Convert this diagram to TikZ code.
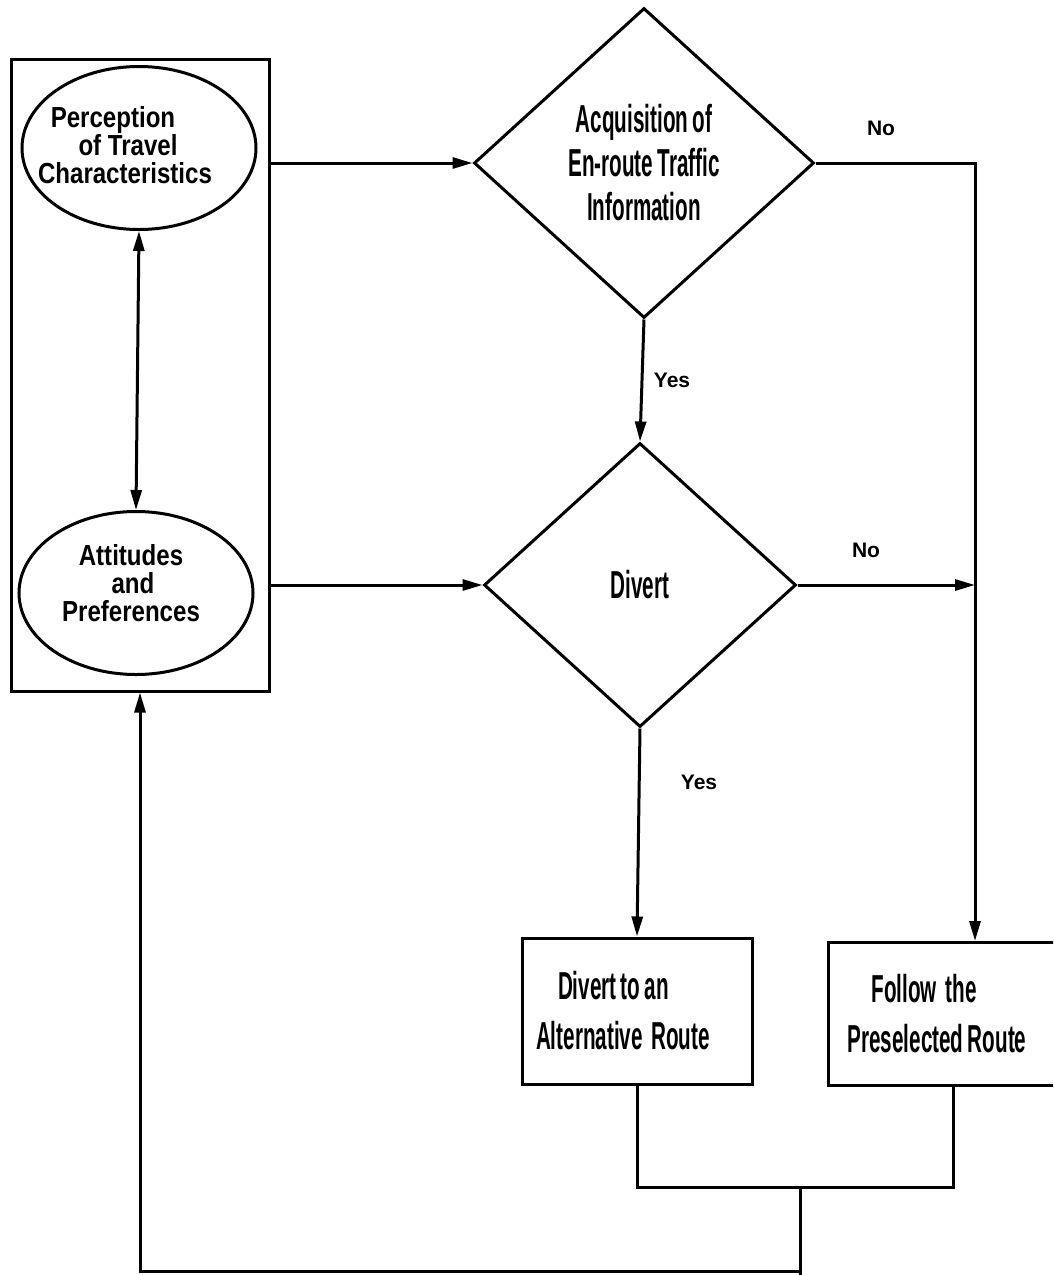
\documentclass[tikz,border=0pt]{standalone}
\usepackage{fontspec}
\usetikzlibrary{shapes.geometric,arrows.meta}
\setmainfont{Liberation Sans}
\newfontfamily\condfont{Liberation Sans Bold}[FakeStretch=0.53,WordSpace=0.75]
\newfontfamily\ellfont{Liberation Sans Bold}[FakeStretch=0.83]
\newfontfamily\lblfont{Liberation Sans Bold}
\tikzset{
  line/.style={line width=3pt, line join=miter},
  arr/.style={line, -{Triangle[length=20pt,width=11pt]}},
  dbl/.style={line, {Triangle[length=20pt,width=11pt]}-{Triangle[length=20pt,width=11pt]}},
  frame/.style={draw, line width=3pt, inner sep=0pt},
  ell/.style={draw, ellipse, line width=3pt, inner sep=0pt,
              minimum width=234pt, minimum height=163pt},
  elltext/.style={align=center, inner sep=0pt, font=\ellfont\fontsize{29}{28}\selectfont},
  decision/.style={draw, diamond, line width=3pt, inner sep=0pt, align=center,
              font=\condfont\fontsize{39}{44}\selectfont},
  action/.style={draw, rectangle, line width=3pt, align=left, inner sep=0pt,
              font=\condfont\fontsize{39}{50}\selectfont},
  answer/.style={inner sep=0pt, font=\lblfont\fontsize{21}{24}\selectfont}
}
\begin{document}
\begin{tikzpicture}[x=1pt, y=-1pt]
\useasboundingbox (0,0) rectangle (1053,1275);
\clip (0,0) rectangle (1053,1275);

% traveller attributes
\node[frame, minimum width=258pt, minimum height=632pt] (frame) at (140,375) {};
\node[ell] (perc) at (139,148) {};
\node[elltext] (perct) at (128,145)
  {Perception\hspace*{30pt}\\ of Travel\hspace*{40pt}\\ Characteristics\hspace*{6pt}};
\node[ell] (att) at (136,593) {};
\node[elltext] (attt) at (133,583)
  {Attitudes\hspace*{4pt}\\ and\hspace*{26pt}\\ Preferences\hspace*{4pt}};
\draw[dbl] (perc.south) -- (att.north);

% decisions
\node[decision, minimum width=340pt, minimum height=310pt] (acq) at (644,163)
  {Acquisition of\\ En-route Traffic\\ Information};
\node[decision, minimum width=312pt, minimum height=284pt] (div) at (640,585)
  {Divert};

% outcomes
\node[action, minimum width=230pt, minimum height=146pt] (alt) at (637,1011)
  {\hspace*{22pt}Divert to an\\ Alternative\ \ Route\hspace*{28pt}};
\node[action, minimum width=250pt, minimum height=143pt] (pre) at (953,1014)
  {\hspace*{24pt}Follow\ \ the\\ Preselected Route\hspace*{32pt}};

% flow
\draw[arr] (frame.east |- acq.west) -- (acq.west);
\draw[arr] (frame.east |- div.west) -- (div.west);
\draw[arr] (acq.south) -- (div.north);
\draw[arr] (div.south) -- (alt.north);
\draw[arr] (acq.east) -| ([xshift=22pt]pre.north);
\draw[arr] (div.east) -- ([xshift=22pt]pre.north |- div.east);

% feedback
\coordinate (join) at (800,1187);
\coordinate (back) at (800,1271);
\draw[line] (alt.south) |- (join) -| (pre.south);
\draw[line] (join) -- (800,1275);
\draw[arr] (back) -| (frame.south);

% answers
\node[answer] (no1) at (881,128) {No};
\node[answer] (yes1) at (672,380) {Yes};
\node[answer] (no2) at (866,550) {No};
\node[answer] (yes2) at (699,782) {Yes};
\end{tikzpicture}
\end{document}
